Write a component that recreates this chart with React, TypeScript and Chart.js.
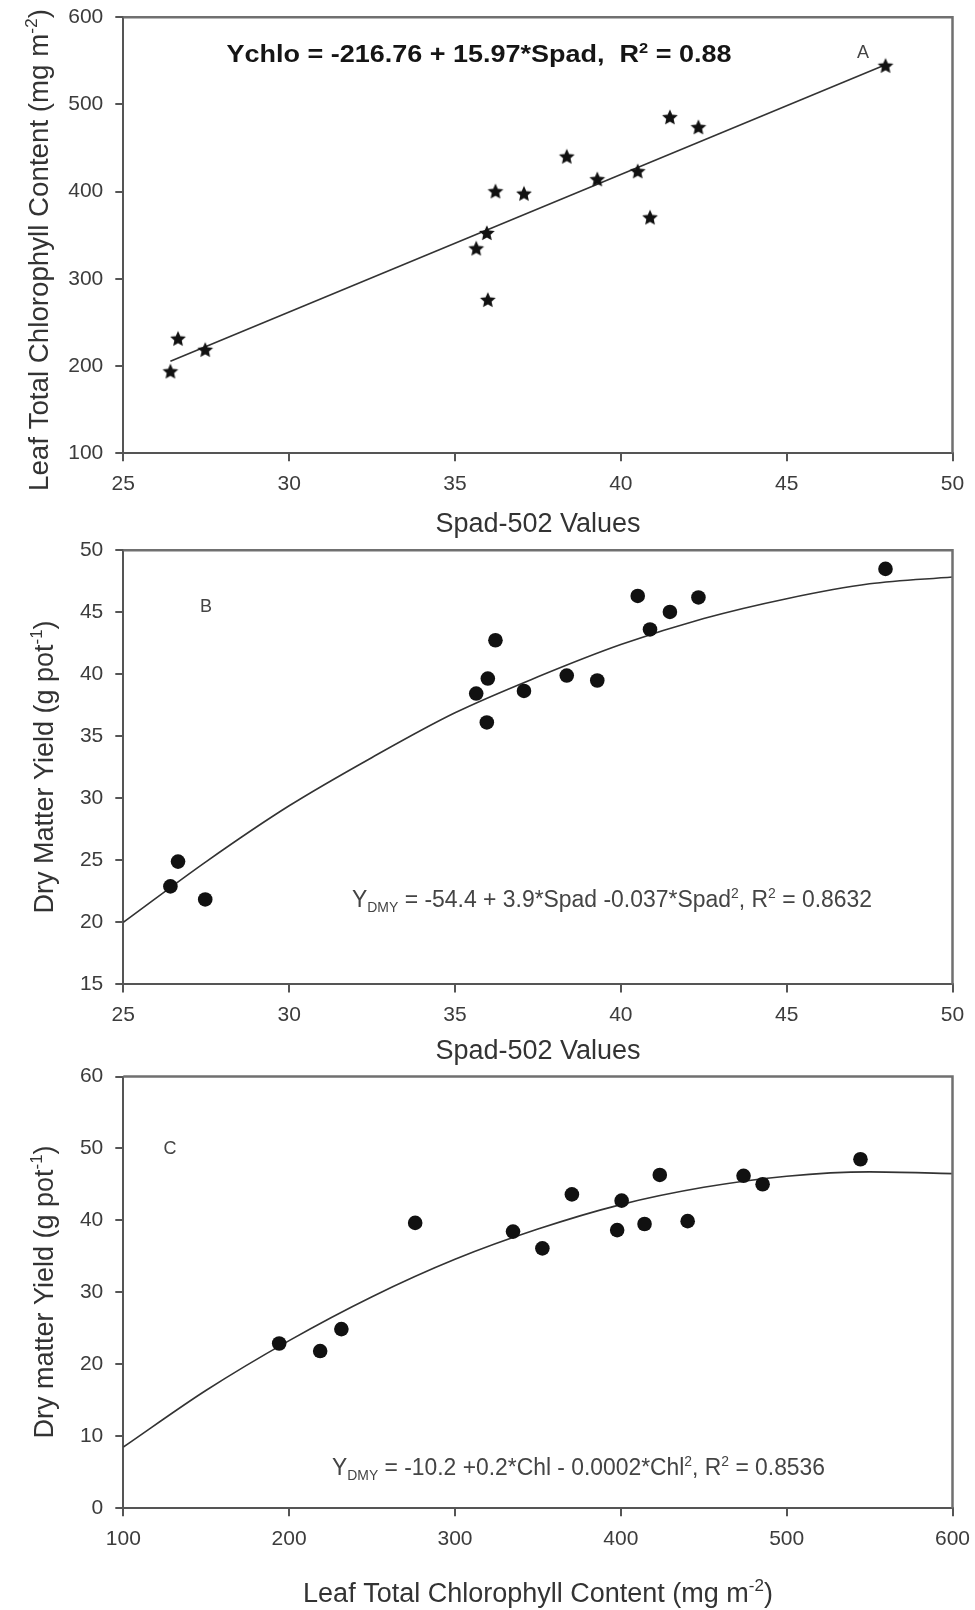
import React, { useEffect, useRef } from 'react';
import { Chart, registerables } from 'chart.js';

Chart.register(...registerables);

const FONT = "'Liberation Sans', Arial, Helvetica, sans-serif";

// ---------- data ----------
const spadValues = [26.42, 26.65, 27.47, 35.64, 35.96, 35.99, 36.22, 37.08, 38.37, 39.29, 40.51, 40.88, 41.48, 42.34, 47.98];
const chlValues = [194, 231.5, 218.7, 335, 352.7, 276, 400.5, 397.8, 440.3, 414.3, 423.5, 370.5, 485.5, 474, 544.5];
const dmyValues = [22.9, 24.9, 21.85, 38.45, 36.12, 39.66, 42.75, 38.66, 39.9, 39.5, 46.32, 43.62, 45.03, 46.2, 48.5];

// fitted line / curves as drawn in the picture
const lineAX = [26.42, 47.98];
const lineAY = [205.5, 545.5];
const curveBX = [25, 27.5, 30, 32.5, 35, 37.5, 40, 42.5, 45, 47.5, 50];
const curveBY = [20.0, 24.9, 29.4, 33.3, 36.9, 39.8, 42.4, 44.5, 46.1, 47.3, 47.85];
const curveCX = [100, 150, 200, 250, 300, 350, 400, 450, 500, 550, 600];
const curveCY = [8.5, 16.4, 23.3, 29.4, 34.6, 38.8, 42.2, 44.6, 46.15, 46.75, 46.5];

// tick labels
const xTicksSpad = [25, 30, 35, 40, 45, 50];
const yTicksChl = [100, 200, 300, 400, 500, 600];
const yTicksDmyB = [15, 20, 25, 30, 35, 40, 45, 50];
const xTicksChl = [100, 200, 300, 400, 500, 600];
const yTicksDmyC = [0, 10, 20, 30, 40, 50, 60];

// ---------- text helpers ----------
type Seg = { t: string; s?: 'sup' | 'sub' };
type RichText = {
  segs: Seg[];
  x: number;
  y: number;
  size: number;
  weight?: string;
  color: string;
  align?: 'left' | 'center';
  rotate?: boolean;
  width?: number;
};

function drawRich(ctx: CanvasRenderingContext2D, r: RichText) {
  const size = r.size;
  const fontFor = (s?: string) => `${r.weight || 'normal'} ${s ? Math.round(size * 0.62) : size}px ${FONT}`;
  ctx.save();
  ctx.translate(r.x, r.y);
  if (r.rotate) ctx.rotate(-Math.PI / 2);
  let total = 0;
  const widths = r.segs.map((seg) => {
    ctx.font = fontFor(seg.s);
    const w = ctx.measureText(seg.t).width;
    total += w;
    return w;
  });
  const sx = r.width ? r.width / total : 1;
  ctx.scale(sx, 1);
  let cx = r.align === 'center' ? -total / 2 : 0;
  ctx.textBaseline = 'alphabetic';
  ctx.textAlign = 'left';
  ctx.fillStyle = r.color;
  r.segs.forEach((seg, i) => {
    ctx.font = fontFor(seg.s);
    const dy = seg.s === 'sup' ? -size * 0.4 : seg.s === 'sub' ? size * 0.22 : 0;
    ctx.fillText(seg.t, cx, dy);
    cx += widths[i];
  });
  ctx.restore();
}

function makeStar(): HTMLCanvasElement {
  const c = document.createElement('canvas');
  c.width = 18;
  c.height = 18;
  const g = c.getContext('2d')!;
  const R = 8.3;
  const r = 3.9;
  g.beginPath();
  for (let i = 0; i < 10; i++) {
    const ang = -Math.PI / 2 + (i * Math.PI) / 5;
    const rad = i % 2 === 0 ? R : r;
    const px = 9 + rad * Math.cos(ang);
    const py = 9.6 + rad * Math.sin(ang);
    if (i === 0) g.moveTo(px, py);
    else g.lineTo(px, py);
  }
  g.closePath();
  g.fillStyle = '#111';
  g.fill();
  return c;
}

type PanelSpec = {
  H: number;
  plotTop: number;
  plotBottom: number;
  xTicks: number[];
  yTicks: number[];
  datasets: (star: HTMLCanvasElement) => any[];
  texts: RichText[];
};

const W = 975;
const PLOT_LEFT = 123.3;
const PLOT_RIGHT = 952.5;
const AXIS_COLOR = '#555555';
const TICK_COLOR = '#3c3c3c';

function makeConfig(p: PanelSpec, star: HTMLCanvasElement): any {
  const tickFont = { family: FONT, size: 21 };
  return {
    type: 'scatter',
    data: { datasets: p.datasets(star) },
    options: {
      animation: false,
      responsive: false,
      devicePixelRatio: 1,
      layout: { padding: { left: 0, right: W - PLOT_RIGHT, top: p.plotTop, bottom: 0 } },
      plugins: { legend: { display: false }, tooltip: { enabled: false } },
      scales: {
        x: {
          type: 'linear',
          min: p.xTicks[0],
          max: p.xTicks[p.xTicks.length - 1],
          afterFit: (s: any) => {
            s.height = p.H - p.plotBottom;
            s.paddingLeft = 0;
            s.paddingRight = 0;
          },
          ticks: {
            stepSize: p.xTicks[1] - p.xTicks[0],
            autoSkip: false,
            maxRotation: 0,
            font: tickFont,
            color: TICK_COLOR,
            padding: 10,
          },
          grid: { drawOnChartArea: false, drawTicks: true, tickLength: 8, color: AXIS_COLOR, lineWidth: 2 },
          border: { display: true, color: AXIS_COLOR, width: 2 },
        },
        y: {
          type: 'linear',
          min: p.yTicks[0],
          max: p.yTicks[p.yTicks.length - 1],
          afterFit: (s: any) => {
            s.width = PLOT_LEFT;
            s.paddingTop = 0;
            s.paddingBottom = 0;
          },
          ticks: {
            stepSize: p.yTicks[1] - p.yTicks[0],
            autoSkip: false,
            font: tickFont,
            color: TICK_COLOR,
            padding: 12,
          },
          grid: { drawOnChartArea: false, drawTicks: true, tickLength: 8, color: AXIS_COLOR, lineWidth: 2 },
          border: { display: true, color: AXIS_COLOR, width: 2 },
        },
      },
    },
    plugins: [
      {
        id: 'frameAndText',
        afterDatasetsDraw(chart: any) {
          const { ctx, chartArea } = chart;
          ctx.save();
          ctx.strokeStyle = '#707070';
          ctx.lineWidth = 2.5;
          ctx.beginPath();
          ctx.moveTo(chartArea.left, chartArea.top);
          ctx.lineTo(chartArea.right, chartArea.top);
          ctx.lineTo(chartArea.right, chartArea.bottom);
          ctx.stroke();
          ctx.restore();
        },
        afterDraw(chart: any) {
          p.texts.forEach((t) => drawRich(chart.ctx, t));
        },
      },
    ],
  };
}

const pointsDs = (xs: number[], ys: number[], style: any, radius: number) => ({
  data: xs.map((x, i) => ({ x, y: ys[i] })),
  showLine: false,
  pointStyle: style,
  pointRadius: radius,
  pointBackgroundColor: '#111',
  pointBorderColor: '#111',
  pointBorderWidth: 0,
  order: 0,
});

const lineDs = (xs: number[], ys: number[]) => ({
  data: xs.map((x, i) => ({ x, y: ys[i] })),
  showLine: true,
  pointRadius: 0,
  borderColor: '#333',
  borderWidth: 1.6,
  cubicInterpolationMode: 'monotone',
  fill: false,
  order: 1,
});

const TITLE = 27;
const titleColor = '#333';

const panelA: PanelSpec = {
  H: 545,
  plotTop: 17.3,
  plotBottom: 453.3,
  xTicks: xTicksSpad,
  yTicks: yTicksChl,
  datasets: (star) => [pointsDs(spadValues, chlValues, star, 8), lineDs(lineAX, lineAY)],
  texts: [
    {
      segs: [{ t: 'Ychlo = -216.76 + 15.97*Spad,  R' }, { t: '2', s: 'sup' }, { t: ' = 0.88' }],
      x: 479, y: 61.7, size: 23, weight: 'bold', color: '#151515', align: 'center', width: 505,
    },
    { segs: [{ t: 'A' }], x: 863, y: 58, size: 18, color: '#444', align: 'center' },
    { segs: [{ t: 'Spad-502 Values' }], x: 538, y: 531.5, size: TITLE, color: titleColor, align: 'center' },
    {
      segs: [{ t: 'Leaf Total Chlorophyll Content (mg m' }, { t: '-2', s: 'sup' }, { t: ')' }],
      x: 48, y: 250, size: TITLE, color: titleColor, align: 'center', rotate: true, width: 482,
    },
  ],
};

const panelB: PanelSpec = {
  H: 545,
  plotTop: 30.3,
  plotBottom: 464.4,
  xTicks: xTicksSpad,
  yTicks: yTicksDmyB,
  datasets: () => [pointsDs(spadValues, dmyValues, 'circle', 7.3), lineDs(curveBX, curveBY)],
  texts: [
    {
      segs: [
        { t: 'Y' }, { t: 'DMY', s: 'sub' }, { t: ' = -54.4 + 3.9*Spad -0.037*Spad' }, { t: '2', s: 'sup' },
        { t: ', R' }, { t: '2', s: 'sup' }, { t: ' = 0.8632' },
      ],
      x: 352, y: 386.7, size: 23, color: '#444', align: 'left', width: 520,
    },
    { segs: [{ t: 'B' }], x: 206, y: 92, size: 18, color: '#444', align: 'center' },
    { segs: [{ t: 'Spad-502 Values' }], x: 538, y: 539.3, size: TITLE, color: titleColor, align: 'center' },
    {
      segs: [{ t: 'Dry Matter Yield (g pot' }, { t: '-1', s: 'sup' }, { t: ')' }],
      x: 53, y: 247, size: TITLE, color: titleColor, align: 'center', rotate: true,
    },
  ],
};

const panelC: PanelSpec = {
  H: 560,
  plotTop: 26.5,
  plotBottom: 458.3,
  xTicks: xTicksChl,
  yTicks: yTicksDmyC,
  datasets: () => [pointsDs(chlValues, dmyValues, 'circle', 7.3), lineDs(curveCX, curveCY)],
  texts: [
    {
      segs: [
        { t: 'Y' }, { t: 'DMY', s: 'sub' }, { t: ' = -10.2 +0.2*Chl - 0.0002*Chl' }, { t: '2', s: 'sup' },
        { t: ', R' }, { t: '2', s: 'sup' }, { t: ' = 0.8536' },
      ],
      x: 332, y: 425, size: 23, color: '#444', align: 'left', width: 493,
    },
    { segs: [{ t: 'C' }], x: 170, y: 104, size: 18, color: '#444', align: 'center' },
    {
      segs: [{ t: 'Leaf Total Chlorophyll Content (mg m' }, { t: '-2', s: 'sup' }, { t: ')' }],
      x: 538, y: 551.5, size: TITLE, color: titleColor, align: 'center',
    },
    {
      segs: [{ t: 'Dry matter Yield (g pot' }, { t: '-1', s: 'sup' }, { t: ')' }],
      x: 53, y: 242, size: TITLE, color: titleColor, align: 'center', rotate: true,
    },
  ],
};

function Panel({ spec, top }: { spec: PanelSpec; top: number }) {
  const ref = useRef<HTMLCanvasElement>(null);
  useEffect(() => {
    if (!ref.current) return;
    const star = makeStar();
    const chart = new Chart(ref.current, makeConfig(spec, star));
    return () => chart.destroy();
  }, [spec]);
  return (
    <canvas
      ref={ref}
      width={W}
      height={spec.H}
      style={{ position: 'absolute', left: 0, top, width: W, height: spec.H, display: 'block' }}
    />
  );
}

export default function App() {
  return (
    <div style={{ position: 'absolute', left: 0, top: 0, width: W, height: 1610, background: '#fff' }}>
      <Panel spec={panelA} top={0} />
      <Panel spec={panelB} top={520} />
      <Panel spec={panelC} top={1050} />
    </div>
  );
}
